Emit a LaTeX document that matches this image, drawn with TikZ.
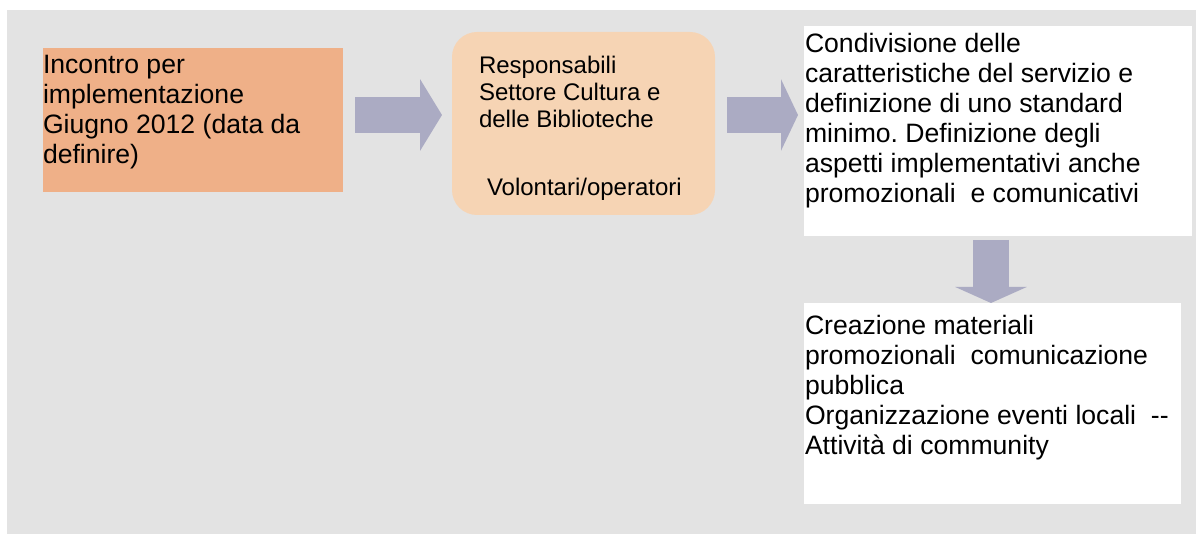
\documentclass[tikz,border=0pt]{standalone}
\usepackage{fontspec}
\setmainfont{Liberation Sans}
\usetikzlibrary{arrows.meta}
\frenchspacing

\definecolor{sfondo}{HTML}{E3E3E3}
\definecolor{arancio}{HTML}{EFB088}
\definecolor{pesca}{HTML}{F6D4B4}
\definecolor{blocco}{HTML}{ABABC3}

\begin{document}
\begin{tikzpicture}[x=0.5pt, y=-0.5pt,
  every node/.style={inner sep=0pt, outer sep=0pt},
  testo/.style={anchor=north west, align=left, font=\fontsize{13.3pt}{15pt}\selectfont},
  testopic/.style={anchor=north west, align=left, font=\fontsize{12pt}{13.5pt}\selectfont},
  freccia/.style={draw=blocco, line width=18pt, -{Triangle[length=#1, width=35.5pt]}}]
\useasboundingbox (0,0) rectangle (1196,534);
\fill[sfondo] (7,10) rectangle (1196,534);
\node[anchor=north west, fill=arancio, minimum width=150pt, minimum height=72pt] (incontro) at (43,48) {};
\node[anchor=north west, fill=pesca, rounded corners=12.5pt, minimum width=131.5pt, minimum height=91.5pt] (resp) at (452,32) {};
\node[anchor=north west, fill=white, minimum width=194pt, minimum height=105pt] (cond) at (804,26) {};
\node[anchor=north west, fill=white, minimum width=188.5pt, minimum height=100.5pt] (crea) at (804,303) {};
\node[testo] (incontro-t) at ([yshift=-3.5pt]incontro.north west) {Incontro per\\implementazione\\Giugno 2012 (data da\\definire)};
\node[testopic] (resp-t) at ([xshift=13.5pt, yshift=-12pt]resp.north west) {Responsabili\\Settore Cultura e\\delle Biblioteche};
\node[testopic] (vol-t) at ([xshift=17.5pt, yshift=-73pt]resp.north west) {Volontari/operatori};
\node[testo] (cond-t) at ([xshift=0.5pt, yshift=-3.5pt]cond.north west) {Condivisione delle\\caratteristiche del servizio e\\definizione di uno standard\\minimo. Definizione degli\\aspetti implementativi anche\\promozionali\ \ e comunicativi};
\node[testo] (crea-t) at ([xshift=0.5pt, yshift=-6pt]crea.north west) {Creazione materiali\\promozionali\ \ comunicazione\\pubblica\\Organizzazione eventi locali\ \ -{}-\\Attività di community};
\coordinate (riga) at (0,115);
\coordinate (colonna) at (991,0);
\draw[freccia=11pt, shorten <=6pt, shorten >=5pt] (incontro.east |- riga) -- (resp.west |- riga);
\draw[freccia=8.5pt, shorten <=6pt, shorten >=3pt] (resp.east |- riga) -- (cond.west |- riga);
\draw[freccia=8pt, shorten <=2pt] (cond.south -| colonna) -- (crea.north -| colonna);
\end{tikzpicture}
\end{document}
